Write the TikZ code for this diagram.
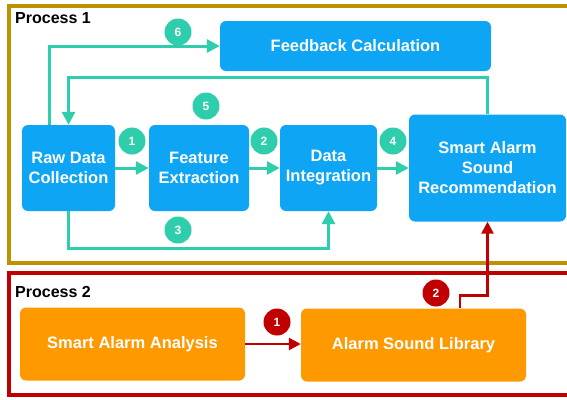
\documentclass[tikz,border=0pt]{standalone}
\usepackage{fontspec}
\setmainfont{Liberation Sans}
\usetikzlibrary{arrows.meta,calc}
\definecolor{nodeblue}{RGB}{14,165,245}
\definecolor{tealc}{RGB}{46,206,172}
\definecolor{orng}{RGB}{255,153,0}
\definecolor{goldc}{RGB}{191,144,0}
\definecolor{dred}{RGB}{192,0,0}
\begin{document}
\begin{tikzpicture}[x=1pt,y=-1pt,
  boxbase/.style={rounded corners=6pt, text=white, align=center, inner sep=0pt,
    font=\bfseries\fontsize{16.5}{20}\selectfont},
  bluebox/.style={boxbase, fill=nodeblue},
  orangebox/.style={boxbase, fill=orng},
  tealarrow/.style={draw=tealc, line width=3pt, -{Triangle[length=13pt,width=13pt]}},
  redarrow/.style={draw=dred, line width=2.5pt, -{Triangle[length=12pt,width=12pt]}},
  tealcirc/.style={circle, fill=tealc, text=white, minimum size=27pt, inner sep=0pt,
    font=\bfseries\fontsize{12}{14}\selectfont},
  redcirc/.style={tealcirc, fill=dred},
  frametitle/.style={anchor=west, inner sep=0pt, font=\bfseries\fontsize{16}{18}\selectfont}
]
\useasboundingbox (0,0) rectangle (567,399);
\fill[white] (0,0) rectangle (567,399);
\clip (0,0) rectangle (567,399);
% frames
\draw[goldc, line width=4pt] (590,6) -- (9,6) -- (9,263) -- (590,263);
\draw[dred, line width=3.5pt] (590,273) -- (9,273) -- (9,395) -- (590,395);
\node[frametitle] (p1) at (15,18) {Process 1};
\node[frametitle] (p2) at (15,292) {Process 2};
% nodes
\node[bluebox, minimum width=93pt, minimum height=86pt] (raw) at (68.5,168) {Raw Data\\Collection};
\node[bluebox, minimum width=100pt, minimum height=86pt] (feat) at (199,168) {Feature\\Extraction};
\node[bluebox, minimum width=97pt, minimum height=86pt] (integ) at (328.5,168) {Data\\Integration};
\node[bluebox, minimum width=157pt, minimum height=107pt] (smart) at (487.5,168) {Smart Alarm\\Sound\\Recommendation};
\node[bluebox, minimum width=271pt, minimum height=50pt] (feed) at (355.5,46) {Feedback Calculation};
\node[orangebox, minimum width=225pt, minimum height=73pt] (anal) at (132.5,344) {Smart Alarm Analysis};
\node[orangebox, minimum width=225pt, minimum height=73pt] (lib) at (413.5,345) {Alarm Sound Library};
% teal connectors
\draw[tealarrow] (raw.east) -- (feat.west);
\draw[tealarrow] (feat.east) -- (integ.west);
\draw[tealarrow] (integ.east) -- (smart.west);
\draw[tealarrow] (raw.south) -- ++(0,37) -| (integ.south);
\draw[tealarrow] (smart.north) -- ++(0,-37) -| (raw.north);
\draw[tealarrow] ($(raw.north west)+(28,0)$) |- (feed.west);
% red connectors
\draw[redarrow] (anal.east) -- (lib.west |- anal.east);
\draw[redarrow] ($(lib.north)+(46.5,0)$) -- ++(0,-13) -| (smart.south);
% step numbers
\node[tealcirc] (n1) at (132,141) {1};
\node[tealcirc] (n2) at (264,141) {2};
\node[tealcirc] (n3) at (178,230) {3};
\node[tealcirc] (n4) at (393,141) {4};
\node[tealcirc] (n5) at (206,106) {5};
\node[tealcirc] (n6) at (178,32) {6};
\node[redcirc] (r1) at (277,322) {1};
\node[redcirc] (r2) at (436,293) {2};
\end{tikzpicture}
\end{document}
